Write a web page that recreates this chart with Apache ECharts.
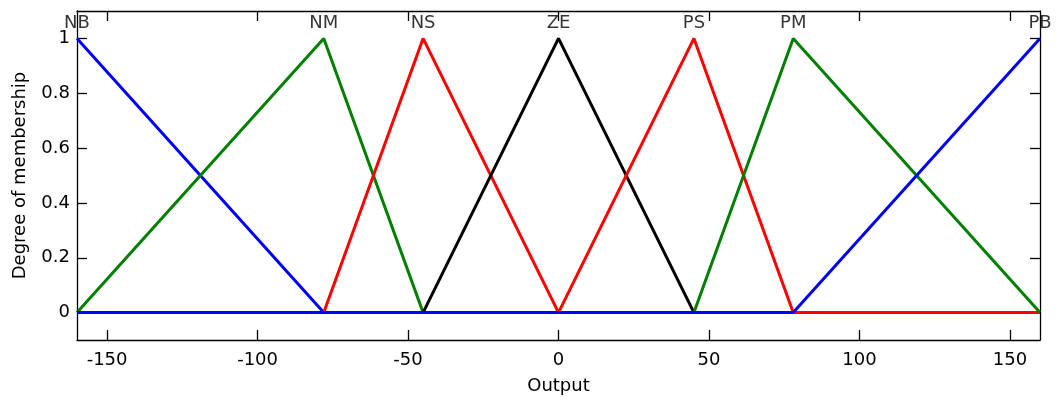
<!DOCTYPE html>
<html>
<head>
<meta charset="utf-8">
<script src="https://cdn.jsdelivr.net/npm/echarts@6/dist/echarts.min.js"></script>
<style>
html,body{margin:0;padding:0;background:#fff;}
#chart{width:1056px;height:401px;}
</style>
</head>
<body>
<div id="chart"></div>
<script>
// Membership function names, colours and vertex data (x, degree)
const mfNames = ['NB', 'NM', 'NS', 'ZE', 'PS', 'PM', 'PB'];
const mfPeaks = [-160, -78, -45, 0, 45, 78, 160];
const NB = [[-160, 1], [-78, 0], [160, 0]];
const NM = [[-160, 0], [-78, 1], [-45, 0], [160, 0]];
const NS = [[-160, 0], [-78, 0], [-45, 1], [0, 0], [160, 0]];
const ZE = [[-160, 0], [-45, 0], [0, 1], [45, 0], [160, 0]];
const PS = [[-160, 0], [0, 0], [45, 1], [78, 0], [160, 0]];
const PM = [[-160, 0], [45, 0], [78, 1], [160, 0]];
const PB = [[-160, 0], [78, 0], [160, 1]];
const mfData = [NB, NM, NS, ZE, PS, PM, PB];
const mfColors = ['#0000ff', '#007f00', '#ff0000', '#000000', '#ff0000', '#007f00', '#0000ff'];
const xTicks = [-150, -100, -50, 0, 50, 100, 150];
const yTicks = [0, 0.2, 0.4, 0.6, 0.8, 1];

const FONT = 'DejaVu Sans';
const FS = 18;
const labelY = 1.056;

const chart = echarts.init(document.getElementById('chart'), null, {renderer: 'canvas'});

const axisLineStyle = {show: true, onZero: false, lineStyle: {color: '#000', width: 1.3}};
const tickStyle = {color: '#000', width: 1.3};
const series = mfData.map((d, i) => ({
  type: 'line',
  name: mfNames[i],
  data: d,
  symbol: 'none',
  lineStyle: {color: mfColors[i], width: 3},
  animation: false,
  xAxisIndex: 0, yAxisIndex: 0
}));
series.push({
  type: 'scatter',
  data: mfPeaks.map((p, i) => ({value: [p, labelY], name: mfNames[i]})),
  symbolSize: 0,
  clip: false,
  silent: true,
  animation: false,
  label: {
    show: true, position: 'inside',
    formatter: p => p.name,
    color: '#000', fontFamily: FONT, fontSize: FS
  }
});

chart.setOption({
  animation: false,
  backgroundColor: '#fff',
  grid: {left: 77, right: 16, top: 11, bottom: 61},
  xAxis: [{
    type: 'value', min: -160, max: 160, position: 'bottom',
    axisLine: axisLineStyle,
    axisTick: {show: true, inside: true, length: 10, customValues: xTicks, lineStyle: tickStyle},
    axisLabel: {show: true, customValues: xTicks, margin: 11, color: '#000', fontFamily: FONT, fontSize: FS},
    splitLine: {show: false},
    name: 'Output', nameLocation: 'middle', nameGap: 37,
    nameTextStyle: {color: '#000', fontFamily: FONT, fontSize: FS}
  }, {
    type: 'value', min: -160, max: 160, position: 'top',
    axisLine: axisLineStyle,
    axisTick: {show: true, inside: true, length: 10, customValues: xTicks, lineStyle: tickStyle},
    axisLabel: {show: false},
    splitLine: {show: false}
  }],
  yAxis: [{
    type: 'value', min: -0.1, max: 1.1, position: 'left',
    axisLine: axisLineStyle,
    axisTick: {show: true, inside: true, length: 10, customValues: yTicks, lineStyle: tickStyle},
    axisLabel: {show: true, customValues: yTicks, margin: 7, color: '#000', fontFamily: FONT, fontSize: FS},
    splitLine: {show: false},
    name: 'Degree of membership', nameLocation: 'middle', nameGap: 48,
    nameTextStyle: {color: '#000', fontFamily: FONT, fontSize: FS}
  }, {
    type: 'value', min: -0.1, max: 1.1, position: 'right',
    axisLine: axisLineStyle,
    axisTick: {show: true, inside: true, length: 10, customValues: yTicks, lineStyle: tickStyle},
    axisLabel: {show: false},
    splitLine: {show: false}
  }],
  series: series
});
</script>
</body>
</html>
